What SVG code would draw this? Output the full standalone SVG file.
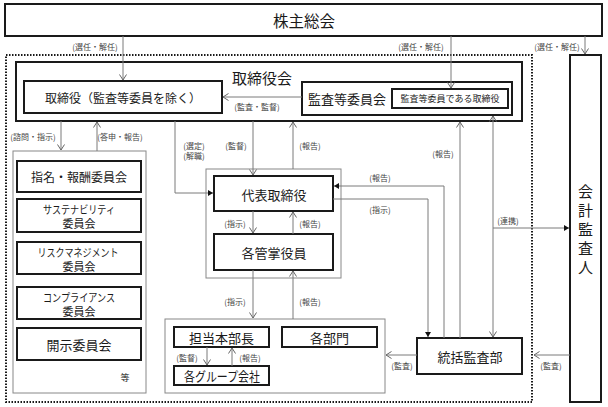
<svg xmlns="http://www.w3.org/2000/svg" width="608" height="407" viewBox="0 0 608 407">
<defs>
<marker id="open" markerUnits="userSpaceOnUse" markerWidth="10" markerHeight="10" refX="6" refY="4" orient="auto-start-reverse">
<path d="M0.5,0.5 L6,4 L0.5,7.5" fill="none" stroke="#666" stroke-width="1"/>
</marker>
<marker id="fill" markerUnits="userSpaceOnUse" markerWidth="10" markerHeight="10" refX="5" refY="3" orient="auto">
<path d="M0,0 L5,3 L0,6 Z" fill="#111"/>
</marker>
</defs>
<style>
text{font-family:"Noto Sans CJK JP","Noto Sans",sans-serif;fill:#1a1a1a;text-anchor:middle;dominant-baseline:central}
.thick{fill:#fff;stroke:#1a1a1a;stroke-width:2}
.cont{fill:none;stroke:#888;stroke-width:1}
.ln{fill:none;stroke:#7a7a7a;stroke-width:1}
.lb{font-size:8px;fill:#444}
.dot{fill:none;stroke:#1a1a1a;stroke-width:2;stroke-dasharray:1.5 1.5}
</style>
<rect width="608" height="407" fill="#fff"/>

<g id="shareholders">
<rect class="thick" x="5" y="4" width="597" height="32"/>
<text x="304" y="20" font-size="15.5">株主総会</text>
</g>

<rect id="group-boundary" class="dot" x="6" y="55" width="526" height="347"/>

<g id="board">
<rect class="thick" x="16" y="62" width="506" height="59"/>
<text x="262" y="77" font-size="15">取締役会</text>
</g>
<g id="directors">
<rect class="thick" x="24" y="81" width="198" height="32"/>
<text x="123" y="97" font-size="12">取締役（監査等委員を除く）</text>
</g>
<g id="audit-committee">
<rect class="thick" x="302" y="82" width="210" height="33"/>
<text x="347" y="98.5" font-size="13">監査等委員会</text>
</g>
<g id="audit-directors">
<rect class="thick" x="392" y="89" width="116" height="19"/>
<text x="450" y="98.5" font-size="9">監査等委員である取締役</text>
</g>

<g id="accounting-auditor">
<rect class="thick" x="570" y="55" width="31" height="347"/>
<text x="585.5" y="190" font-size="15">会</text>
<text x="585.5" y="209" font-size="15">計</text>
<text x="585.5" y="228" font-size="15">監</text>
<text x="585.5" y="247" font-size="15">査</text>
<text x="585.5" y="266" font-size="15">人</text>
</g>

<g id="committees">
<rect class="cont" x="13" y="151" width="133" height="242"/>
<text x="125" y="377" font-size="9">等</text>
</g>
<g id="nomination">
<rect class="thick" x="17" y="161" width="124" height="31"/>
<text x="79" y="176.5" font-size="12">指名・報酬委員会</text>
</g>
<g id="sustainability">
<rect class="thick" x="17" y="199" width="124" height="33"/>
<text x="79" y="208.5" font-size="11" textLength="72" lengthAdjust="spacingAndGlyphs">サステナビリティ</text>
<text x="79" y="223" font-size="11">委員会</text>
</g>
<g id="risk">
<rect class="thick" x="17" y="242" width="124" height="32"/>
<text x="78" y="251.5" font-size="11" textLength="81" lengthAdjust="spacingAndGlyphs">リスクマネジメント</text>
<text x="79" y="266" font-size="11">委員会</text>
</g>
<g id="compliance">
<rect class="thick" x="17" y="287" width="124" height="32"/>
<text x="79" y="296.5" font-size="11" textLength="72" lengthAdjust="spacingAndGlyphs">コンプライアンス</text>
<text x="79" y="311" font-size="11">委員会</text>
</g>
<g id="disclosure">
<rect class="thick" x="17" y="328" width="124" height="32"/>
<text x="79" y="344" font-size="13">開示委員会</text>
</g>

<g id="executive-area">
<rect class="cont" x="206" y="169" width="135" height="109"/>
</g>
<g id="representative">
<rect class="thick" x="214" y="176" width="119" height="35"/>
<text x="274" y="194" font-size="13">代表取締役</text>
</g>
<g id="officers">
<rect class="thick" x="214" y="234" width="119" height="36"/>
<text x="274" y="252" font-size="13">各管掌役員</text>
</g>

<g id="operations-area">
<rect class="cont" x="165" y="319" width="220" height="74"/>
</g>
<g id="division-head">
<rect class="thick" x="174" y="327" width="95" height="20"/>
<text x="221.5" y="337" font-size="13">担当本部長</text>
</g>
<g id="departments">
<rect class="thick" x="282" y="327" width="95" height="20"/>
<text x="329.5" y="337" font-size="13">各部門</text>
</g>
<g id="group-companies">
<rect class="thick" x="174" y="366" width="95" height="19"/>
<text x="222" y="375.5" font-size="13" textLength="76" lengthAdjust="spacingAndGlyphs">各グループ会社</text>
</g>

<g id="internal-audit">
<rect class="thick" x="417" y="338" width="105" height="36"/>
<text x="470" y="356" font-size="13">統括監査部</text>
</g>

<g id="connectors">
<path class="ln" d="M123,36 V80" marker-end="url(#open)"/>
<path class="ln" d="M451,36 V88" marker-end="url(#open)"/>
<path class="ln" d="M585,36 V54" marker-end="url(#open)"/>
<path class="ln" d="M302,97 H223" marker-end="url(#open)"/>
<path class="ln" d="M61,121 V150" marker-end="url(#open)"/>
<path class="ln" d="M97,151 V122" marker-end="url(#open)"/>
<path class="ln" d="M175,121 V193 H213" marker-end="url(#fill)"/>
<path class="ln" d="M253,121 V175" marker-end="url(#open)"/>
<path class="ln" d="M293,169 V122" marker-end="url(#open)"/>
<path class="ln" d="M253,211 V233" marker-end="url(#open)"/>
<path class="ln" d="M293,234 V212" marker-end="url(#open)"/>
<path class="ln" d="M253,270 V318" marker-end="url(#open)"/>
<path class="ln" d="M293,319 V271" marker-end="url(#open)"/>
<path class="ln" d="M444,338 V186 H334" marker-end="url(#fill)"/>
<path class="ln" d="M333,199 H428 V337" marker-end="url(#fill)"/>
<path class="ln" d="M460,338 V122" marker-end="url(#open)"/>
<path class="ln" d="M493,116 V337" marker-start="url(#open)" marker-end="url(#open)"/>
<path class="ln" d="M493,228 H569" marker-end="url(#fill)"/>
<path class="ln" d="M570,355 H534" marker-end="url(#open)"/>
<path class="ln" d="M417,355 H386" marker-end="url(#open)"/>
<path class="ln" d="M207,347 V365" marker-end="url(#open)"/>
<path class="ln" d="M232,366 V348" marker-end="url(#open)"/>
<text class="lb" x="95" y="46">(選任・解任)</text>
<text class="lb" x="421" y="46">(選任・解任)</text>
<text class="lb" x="557" y="46">(選任・解任)</text>
<text class="lb" x="257" y="106">(監査・監督)</text>
<text class="lb" x="33" y="136">(諮問・指示)</text>
<text class="lb" x="120" y="136">(答申・報告)</text>
<text class="lb" x="194" y="145">(選定)</text>
<text class="lb" x="194" y="155">(解職)</text>
<text class="lb" x="236" y="145">(監督)</text>
<text class="lb" x="310" y="145">(報告)</text>
<text class="lb" x="235" y="223">(指示)</text>
<text class="lb" x="310" y="223">(報告)</text>
<text class="lb" x="235" y="301">(指示)</text>
<text class="lb" x="310" y="301">(報告)</text>
<text class="lb" x="380" y="177">(報告)</text>
<text class="lb" x="380" y="209">(指示)</text>
<text class="lb" x="443" y="153">(報告)</text>
<text class="lb" x="508" y="220">(連携)</text>
<text class="lb" x="551" y="365">(監査)</text>
<text class="lb" x="402" y="365">(監査)</text>
<text class="lb" x="187" y="357">(監督)</text>
<text class="lb" x="250" y="357">(報告)</text>
</g>
</svg>
